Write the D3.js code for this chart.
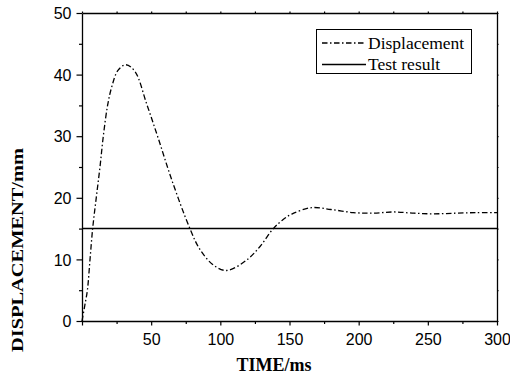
<!DOCTYPE html>
<html>
<head>
<meta charset="utf-8">
<script src="https://cdn.jsdelivr.net/npm/d3@7"></script>
<style>
  body { margin: 0; background: #fff; }
  svg { display: block; }
</style>
</head>
<body>
<div id="chart"></div>
<script>
// data
const time = [0, 2, 3.9, 5.8, 7.7, 10.3, 13, 15.4, 18.5, 21.5, 26, 31.8, 38.3, 46.8, 55.2, 64.9, 78, 85.3, 94.9, 104.6, 119, 128.7, 138.3, 145, 152, 166, 180, 196, 210, 225, 240, 254, 270, 285, 300];
const displacement = [0, 2.5, 5, 10, 15, 20, 25, 30, 35, 38, 40.7, 41.6, 40.5, 35.2, 29.6, 22.9, 15, 11.6, 9.1, 8.2, 9.9, 12.1, 15, 16.4, 17.4, 18.4, 18.1, 17.6, 17.5, 17.7, 17.5, 17.4, 17.5, 17.6, 17.6];
const testTime = [0, 300];
const testValue = [15, 15];
const xTicks = [0, 25, 50, 75, 100, 125, 150, 175, 200, 225, 250, 275, 300];
const xLabels = [50, 100, 150, 200, 250, 300];
const yTicks = [0, 5, 10, 15, 20, 25, 30, 35, 40, 45, 50];
const yLabels = [0, 10, 20, 30, 40, 50];
const legendNames = ['Displacement', 'Test result'];

const width = 510, height = 376;
const x = d3.scaleLinear().domain([0, 300]).range([82, 497]);
const y = d3.scaleLinear().domain([0, 50]).range([321, 13]);
const dash = '5.5,2.5,1.5,2.5';

const svg = d3.select('#chart').append('svg')
    .attr('width', width)
    .attr('height', height);

// bottom axis
const gx = svg.append('g')
    .attr('transform', 'translate(0,' + y(0) + ')')
    .call(d3.axisBottom(x).tickValues(xTicks).tickSizeOuter(0)
        .tickFormat(d => xLabels.includes(d) ? d : ''));
gx.selectAll('.tick line').attr('y2', d => d % 50 === 0 ? 4.5 : 3);
gx.selectAll('.tick text').attr('y', 0).attr('dy', 24);

// left axis
const gy = svg.append('g')
    .attr('transform', 'translate(' + x(0) + ',0)')
    .call(d3.axisLeft(y).tickValues(yTicks).tickSizeOuter(0)
        .tickFormat(d => yLabels.includes(d) ? d : ''));
gy.selectAll('.tick line').attr('x2', d => d % 10 === 0 ? -5.5 : -3);
gy.selectAll('.tick text').attr('x', -10.5).attr('dy', '0.36em');

// top and right axes, tiny ticks
svg.append('g')
    .attr('transform', 'translate(0,' + y(50) + ')')
    .call(d3.axisTop(x).tickValues(xTicks).tickSize(1.5).tickSizeOuter(0).tickFormat(''));
svg.append('g')
    .attr('transform', 'translate(' + x(300) + ',0)')
    .call(d3.axisRight(y).tickValues(yTicks).tickSize(1.5).tickSizeOuter(0).tickFormat(''));

svg.selectAll('.domain').attr('stroke', '#000').attr('stroke-width', 1.3);
svg.selectAll('.tick line').attr('stroke', '#000').attr('stroke-width', 1.2);
svg.selectAll('.tick text')
    .attr('fill', '#000')
    .style('font-family', '"Liberation Sans", Arial, sans-serif')
    .style('font-size', '16px');

// lines
const line = d3.line()
    .x(d => x(d[0]))
    .y(d => y(d[1]))
    .curve(d3.curveCatmullRom.alpha(0.5));

svg.append('path')
    .datum(d3.zip(testTime, testValue))
    .attr('d', line)
    .attr('fill', 'none')
    .attr('stroke', '#000')
    .attr('stroke-width', 1.5);

svg.append('path')
    .datum(d3.zip(time, displacement))
    .attr('d', line)
    .attr('fill', 'none')
    .attr('stroke', '#000')
    .attr('stroke-width', 1.3)
    .attr('stroke-dasharray', dash);

// axis titles
svg.append('text')
    .attr('x', 274)
    .attr('y', 371)
    .attr('text-anchor', 'middle')
    .style('font-family', '"Liberation Serif", "Times New Roman", serif')
    .style('font-weight', 'bold')
    .style('font-size', '18px')
    .text('TIME/ms');

svg.append('text')
    .attr('transform', 'translate(23,250) rotate(-90)')
    .attr('text-anchor', 'middle')
    .attr('textLength', 204)
    .attr('lengthAdjust', 'spacingAndGlyphs')
    .style('font-family', '"Liberation Serif", "Times New Roman", serif')
    .style('font-weight', 'bold')
    .style('font-size', '17px')
    .text('DISPLACEMENT/mm');

// legend
const legend = svg.append('g');
legend.append('rect')
    .attr('x', 316.5).attr('y', 29.5)
    .attr('width', 155).attr('height', 44)
    .attr('fill', '#fff')
    .attr('stroke', '#000')
    .attr('stroke-width', 1);

legendNames.forEach(function(name, i) {
    const ly = 43 + i * 21.5;
    legend.append('line')
        .attr('x1', 322).attr('x2', 366)
        .attr('y1', ly).attr('y2', ly)
        .attr('stroke', '#000')
        .attr('stroke-width', i === 0 ? 1.3 : 1.5)
        .attr('stroke-dasharray', i === 0 ? dash : null);
    legend.append('text')
        .attr('x', 368)
        .attr('y', ly + 5.5)
        .style('font-family', '"Liberation Serif", "Times New Roman", serif')
        .style('font-size', '17.5px')
        .text(name);
});
</script>
</body>
</html>
